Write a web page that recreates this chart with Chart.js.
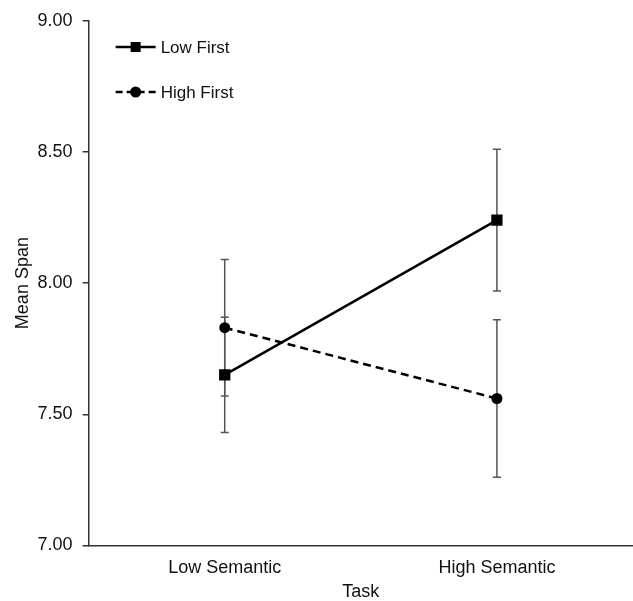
<!DOCTYPE html>
<html lang="en">
<head>
  <meta charset="UTF-8">
  <title>Mean Span by Task</title>
  <script src="https://cdn.jsdelivr.net/npm/chart.js"></script>
  <style>
    html, body { margin: 0; padding: 0; background: #fff; overflow: hidden; }
    canvas { display: block; }
  </style>
</head>
<body>
  <canvas id="spanChart" width="633" height="601"></canvas>

  <script>
    // data
    const tasks = ['Low Semantic', 'High Semantic'];
    const lowFirst = [7.65, 8.24];
    const lowFirstErr = [0.22, 0.27];
    const highFirst = [7.83, 7.56];
    const highFirstErr = [0.26, 0.30];
    const yTicks = [7.0, 7.5, 8.0, 8.5, 9.0];

    const FONT = 'Liberation Sans, Arial, sans-serif';
    const errors = [lowFirstErr, highFirstErr];

    // error bars, drawn under the markers
    const errorBars = {
      id: 'errorBars',
      beforeDatasetsDraw(chart) {
        const ctx = chart.ctx;
        const y = chart.scales.y;
        ctx.save();
        ctx.strokeStyle = '#555';
        ctx.lineWidth = 1.5;
        chart.data.datasets.forEach((ds, i) => {
          const meta = chart.getDatasetMeta(i);
          meta.data.forEach((pt, j) => {
            const top = y.getPixelForValue(ds.data[j] + errors[i][j]);
            const bot = y.getPixelForValue(ds.data[j] - errors[i][j]);
            ctx.beginPath();
            ctx.moveTo(pt.x, top); ctx.lineTo(pt.x, bot);
            ctx.moveTo(pt.x - 4, top); ctx.lineTo(pt.x + 4, top);
            ctx.moveTo(pt.x - 4, bot); ctx.lineTo(pt.x + 4, bot);
            ctx.stroke();
          });
        });
        ctx.restore();
      }
    };

    // legend in the top-left corner of the plot
    const insideLegend = {
      id: 'insideLegend',
      afterDraw(chart) {
        const ctx = chart.ctx;
        const x0 = chart.chartArea.left + 27;
        ctx.save();
        ctx.font = '17px ' + FONT;
        ctx.textBaseline = 'middle';
        chart.data.datasets.forEach((ds, i) => {
          const yy = 47 + i * 45;
          ctx.strokeStyle = '#000';
          ctx.lineWidth = 2.5;
          ctx.setLineDash(i === 1 ? [7, 4] : []);
          ctx.beginPath();
          ctx.moveTo(x0, yy); ctx.lineTo(x0 + 40, yy);
          ctx.stroke();
          ctx.setLineDash([]);
          ctx.fillStyle = '#000';
          if (ds.pointStyle === 'rect') {
            ctx.fillRect(x0 + 15, yy - 5, 10, 10);
          } else {
            ctx.beginPath();
            ctx.arc(x0 + 20, yy, 5.5, 0, Math.PI * 2);
            ctx.fill();
          }
          ctx.fillStyle = '#111';
          ctx.fillText(ds.label, x0 + 45, yy + 1);
        });
        ctx.restore();
      }
    };

    new Chart(document.getElementById('spanChart').getContext('2d'), {
      type: 'line',
      data: {
        labels: tasks,
        datasets: [
          {
            label: 'Low First', data: lowFirst,
            borderColor: '#000', backgroundColor: '#000', borderWidth: 2.5,
            pointStyle: 'rect', pointRadius: 8, pointBorderWidth: 0
          },
          {
            label: 'High First', data: highFirst,
            borderColor: '#000', backgroundColor: '#000', borderWidth: 2.5,
            borderDash: [8, 5],
            pointStyle: 'circle', pointRadius: 5.5, pointBorderWidth: 0
          }
        ]
      },
      options: {
        responsive: false,
        animation: false,
        layout: { autoPadding: false, padding: { top: 20, right: 0, left: 12, bottom: 0 } },
        plugins: { legend: { display: false }, tooltip: { enabled: false } },
        scales: {
          x: {
            offset: true,
            grid: { display: false },
            border: { display: true, color: '#333', width: 1.5 },
            ticks: { color: '#111', font: { family: FONT, size: 18 }, padding: 4, maxRotation: 0 },
            title: { display: true, text: 'Task', color: '#111', font: { family: FONT, size: 18, lineHeight: 1 }, padding: { top: 0, bottom: 0 } }
          },
          y: {
            min: 7, max: 9,
            afterBuildTicks: axis => { axis.ticks = yTicks.map(v => ({ value: v })); },
            grid: { drawOnChartArea: false, drawTicks: true, tickLength: 6, color: '#333', lineWidth: 1.5 },
            border: { display: true, color: '#333', width: 1.5 },
            ticks: { color: '#111', font: { family: FONT, size: 18 }, padding: 10, autoSkip: false, callback: v => Number(v).toFixed(2) },
            title: { display: true, text: 'Mean Span', color: '#111', font: { family: FONT, size: 18 }, padding: { top: 0, bottom: -6 } }
          }
        }
      },
      plugins: [errorBars, insideLegend]
    });
  </script>
</body>
</html>
